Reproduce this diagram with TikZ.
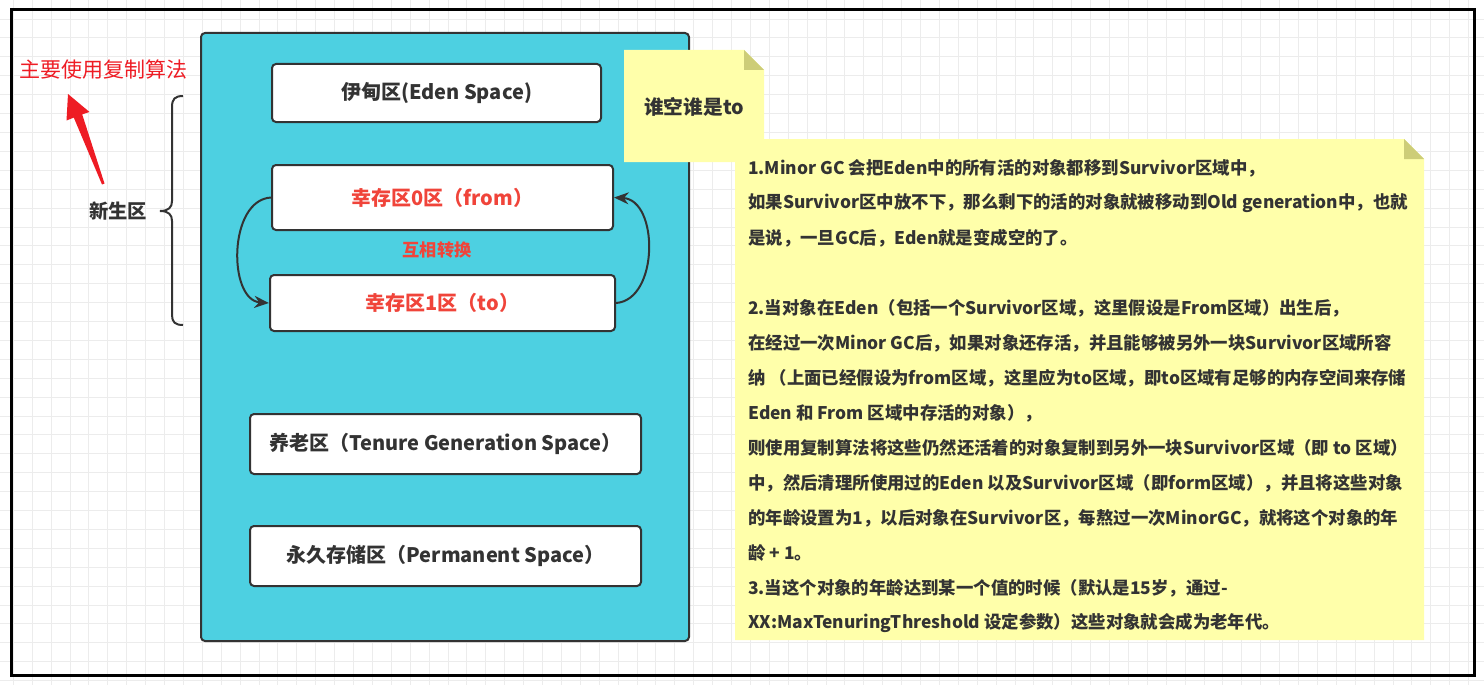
\documentclass[tikz,border=0pt]{standalone}
\usepackage{fontspec}
\setmainfont{Noto Sans CJK SC}
\usetikzlibrary{arrows.meta}
\definecolor{dark}{HTML}{333333}
\definecolor{cyanbox}{HTML}{4DD0E1}
\definecolor{notey}{HTML}{FFFFAA}
\definecolor{foldy}{HTML}{CDCD78}
\definecolor{redtxt}{HTML}{F0443A}
\definecolor{redarrow}{HTML}{EE1C24}
\definecolor{gridc}{HTML}{ECECEC}
\tikzset{
  membox/.style={draw=dark, fill=white, line width=1.5pt, rounded corners=3pt, inner sep=0pt,
    font=\bfseries\fontsize{15}{18}\selectfont, text=dark},
  redbox/.style={membox, text=redtxt},
  notetxt/.style={anchor=west, inner sep=0pt, font=\bfseries\fontsize{13.05}{15}\selectfont, text=dark},
  cyc/.style={-{Stealth[length=11pt,width=9pt]}, draw=dark, line width=1.5pt},
  gridline/.style={draw=gridc, line width=0.75pt},
}
\begin{document}
\begin{tikzpicture}[x=0.75pt,y=-0.75pt]
\useasboundingbox (0,0) rectangle (1484,685);
% grid
\foreach \i in {0,...,78} {
  \draw[gridline] ({13.3+18.9*\i},0) -- ({13.3+18.9*\i},685);
}
\foreach \j in {1,...,36} {
  \draw[gridline] (0,{0.2+18.9*\j}) -- (1484,{0.2+18.9*\j});
}
% outer frame
\draw[black, line width=2.25pt] (11,10) rectangle (1474,675);
% big box
\node[draw=dark, fill=cyanbox, line width=1.5pt, rounded corners=3pt, minimum width=366pt, minimum height=456pt] (heap) at (445,337) {};
% inner boxes
\node[membox, minimum width=246.75pt, minimum height=43.5pt] (eden) at (436.5,93) {伊甸区(Eden Space)};
\node[redbox, minimum width=255.75pt, minimum height=48.75pt] (s0) at (442.5,197.5) {幸存区0区（from）};
\node[redbox, minimum width=258.75pt, minimum height=42pt] (s1) at (442.5,303) {幸存区1区（to）};
\node[membox, minimum width=293.25pt, minimum height=45pt] (old) at (445.5,444) {养老区（Tenure Generation Space）};
\node[membox, minimum width=293.25pt, minimum height=45pt] (perm) at (445.5,556) {永久存储区（Permanent Space）};
\node[inner sep=0pt, font=\bfseries\fontsize{12.9}{15}\selectfont, text=redtxt] (swap) at (437,250) {互相转换};
% cycle arrows
\draw[cyc] (s0.west) .. controls (228,200) and (228,300) .. (s1.west);
\draw[cyc] (s1.east) .. controls (659,300) and (659,200) .. (s0.east);
% brace
\draw[dark, line width=1.5pt] (183,96) .. controls (175,96) and (172,99) .. (172,107) -- (172,201)
  .. controls (172,207) and (169,211) .. (160,211) .. controls (169,211) and (172,215) .. (172,221)
  -- (172,315) .. controls (172,322) and (175,325) .. (183,325);
\node[inner sep=0pt, font=\bfseries\fontsize{14.5}{17}\selectfont, text=dark] (young) at (118,211) {新生区};
% red annotation
\node[inner sep=0pt, font=\fontsize{15.75}{18}\selectfont, text=redarrow] (copy) at (103,70) {主要使用复制算法};
\fill[redarrow] (102,184.5) -- (104.5,183.5) -- (82.2,114.4) -- (89.5,112) -- (68,94) -- (66.5,120.5) -- (73.8,117.6) -- cycle;
% note 1
\fill[notey] (624,50) -- (744,50) -- (764,70) -- (764,162) -- (624,162) -- cycle;
\fill[foldy] (744,50) -- (764,70) -- (744,70) -- cycle;
\node[inner sep=0pt, font=\bfseries\fontsize{14.8}{17}\selectfont, text=dark] (who) at (694,107) {谁空谁是to};
% note 2
\fill[notey] (735,139) -- (1404,139) -- (1424,159) -- (1424,640) -- (735,640) -- cycle;
\fill[foldy] (1404,139) -- (1424,159) -- (1404,159) -- cycle;
\node[notetxt] (l1) at (748,168) {1.Minor GC 会把Eden中的所有活的对象都移到Survivor区域中，};
\node[notetxt] (l2) at (748,203) {如果Survivor区中放不下，那么剩下的活的对象就被移动到Old generation中，也就};
\node[notetxt] (l3) at (748,238) {是说，一旦GC后，Eden就是变成空的了。};
\node[notetxt] (l5) at (748,308) {2.当对象在Eden（包括一个Survivor区域，这里假设是From区域）出生后，};
\node[notetxt] (l6) at (748,343) {在经过一次Minor GC后，如果对象还存活，并且能够被另外一块Survivor区域所容};
\node[notetxt] (l7) at (748,378) {纳 （上面已经假设为from区域，这里应为to区域，即to区域有足够的内存空间来存储};
\node[notetxt] (l8) at (748,413) {Eden 和 From 区域中存活的对象），};
\node[notetxt] (l9) at (748,448) {则使用复制算法将这些仍然还活着的对象复制到另外一块Survivor区域（即 to 区域）};
\node[notetxt] (l10) at (748,483) {中，然后清理所使用过的Eden 以及Survivor区域（即form区域），并且将这些对象};
\node[notetxt] (l11) at (748,518) {的年龄设置为1，以后对象在Survivor区，每熬过一次MinorGC，就将这个对象的年};
\node[notetxt] (l12) at (748,553) {龄 + 1。};
\node[notetxt] (l13) at (748,588) {3.当这个对象的年龄达到某一个值的时候（默认是15岁，通过-};
\node[notetxt] (l14) at (748,623) {XX:MaxTenuringThreshold 设定参数）这些对象就会成为老年代。};
\end{tikzpicture}
\end{document}
